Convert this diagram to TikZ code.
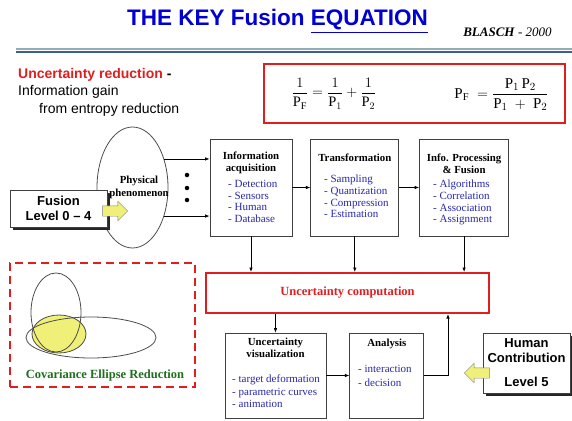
\documentclass[tikz,border=0pt]{standalone}
\usepackage{fontspec}
\setmainfont{Liberation Serif}
\setsansfont{Liberation Sans}
\usepackage{tikz}
\usetikzlibrary{shapes.geometric, shapes.arrows, arrows.meta, positioning, shadows}
\definecolor{keyblue}{RGB}{0,0,210}
\definecolor{keyred}{RGB}{225,30,30}
\definecolor{itemblue}{RGB}{40,40,170}
\definecolor{keygreen}{RGB}{30,110,30}
\definecolor{keyyellow}{RGB}{240,240,120}
\definecolor{rulelight}{RGB}{150,170,190}
\definecolor{ruledark}{RGB}{60,95,140}

\begin{document}
\begin{tikzpicture}[
    x=1pt, y=-1pt,
    box/.style={rectangle, draw=black!75, line width=0.8pt, fill=white,
                minimum width=82, minimum height=97, inner sep=0},
    head/.style={font=\bfseries\fontsize{10.8}{12.5}\selectfont, align=center, inner sep=0},
    items/.style={font=\fontsize{11}{11.7}\selectfont, text=itemblue, align=left, inner sep=0},
    shbox/.style={rectangle, draw=black!75, line width=0.8pt, fill=white, align=center,
                  font=\sffamily\bfseries\fontsize{13}{15}\selectfont,
                  drop shadow={shadow xshift=3pt, shadow yshift=-3pt, opacity=1, fill=black!85}},
    yarrow/.style={single arrow, draw=black!50, fill=keyyellow, minimum height=25,
                   minimum width=19, inner sep=5pt, single arrow head extend=4.5pt},
    arrow/.style={-{Latex[length=4.5pt, width=3.5pt]}, line width=0.7pt},
    ell/.style={ellipse, draw=black!70, line width=0.8pt, inner sep=0},
    dot/.style={circle, fill=black, inner sep=0, minimum size=4.5}
  ]
    \useasboundingbox (0,0) rectangle (572,420);

    % Title
    \node[anchor=base, text=keyblue, font=\sffamily\bfseries\fontsize{22.5}{26}\selectfont]
      (title) at (277.5,26) {THE KEY Fusion \underline{EQUATION}};
    \node[anchor=base, font=\fontsize{13}{15}\selectfont] (author) at (507.5,37)
      {\textbf{\textit{BLASCH}} \textit{- 2000}};
    \draw[rulelight, line width=2pt] (16,49.5) -- (572,49.5);
    \draw[ruledark, line width=2pt] (16,52.5) -- (572,52.5);

    % Entropy text
    \node[anchor=north west, align=left, inner sep=0, font=\sffamily\fontsize{14}{17.5}\selectfont]
      (gain) at (18,68) {\textcolor{keyred}{\bfseries Uncertainty reduction} \textbf{-}\\
      Information gain\\\hspace*{21pt}from entropy reduction};

    % Equations
    \node[draw=keyred, line width=1.5pt, minimum width=301, minimum height=59] (eqbox) at (414.5,93.5) {};
    \node[font=\fontsize{14.5}{17}\selectfont] (eqa) at (334,93.5)
      {$\displaystyle\frac{1}{\mathrm{P}_\mathrm{F}} = \frac{1}{\mathrm{P}_1} + \frac{1}{\mathrm{P}_2}$};
    \node[font=\fontsize{15}{18}\selectfont] (eqb) at (501.5,94.5)
      {$\mathrm{P}_\mathrm{F} \;= \displaystyle\frac{\mathrm{P}_1\,\mathrm{P}_2}{\mathrm{P}_1 \;+\; \mathrm{P}_2}$};

    % Physical phenomenon
    \node[ell, minimum width=71, minimum height=121] (phys) at (132.5,187.5) {};
    \node[head] (physlbl) at (139,187.5) {Physical\\phenomenon};
    \foreach \i/\y in {1/175,2/188,3/200}
      \node[dot] (dot\i) at (187,\y) {};

    % Fusion levels 0-4
    \node[shbox, minimum width=97, minimum height=37] (fusion) at (58.5,208.5) {Fusion\\Level 0 -- 4};
    \node[yarrow] (farr) at (112.5,211) {};

    % Processing chain
    \node[box] (acq) at (251,187.5) {};
    \node[box, minimum width=88, right=18pt of acq] (trans) {};
    \node[box, minimum width=89, right=20pt of trans] (proc) {};
    \node[head, below=13pt of acq.north] (acqhead) {Information\\acquisition};
    \node[head, below=15pt of trans.north] (transhead) {Transformation};
    \node[head, below=15pt of proc.north] (prochead) {Info. Processing\\\& Fusion};
    \node[items, anchor=north west] (acqitems) at (228,180)
      {- Detection\\- Sensors\\- Human\\- Database};
    \node[items, anchor=north west] (transitems) at (324,175)
      {- Sampling\\- Quantization\\- Compression\\- Estimation};
    \node[items, anchor=north west] (procitems) at (433,180)
      {- Algorithms\\- Correlation\\- Association\\- Assignment};

    % Uncertainty computation
    \node[draw=keyred, line width=2pt, minimum width=283, minimum height=40, text=keyred,
          font=\bfseries\fontsize{12.5}{15}\selectfont] (unc) at (347.5,293) {Uncertainty computation};

    % Visualization and analysis
    \node[box, minimum width=101, minimum height=85] (vis) at (275.5,375.5) {};
    \node[box, minimum width=74, minimum height=85, right=23pt of vis] (ana) {};
    \node[head, below=5pt of vis.north] (vishead) {Uncertainty\\visualization};
    \node[head, below=6pt of ana.north] (anahead) {Analysis};
    \node[items, font=\fontsize{11}{12.5}\selectfont, anchor=north west] (visitems) at (232,375)
      {- target deformation\\- parametric curves\\- animation};
    \node[items, anchor=north west] (anaitems) at (358,365) {- interaction\\[2.5pt]- decision};

    % Human contribution
    \node[shbox, minimum width=87, minimum height=60] (human) at (526.5,363)
      {Human\\Contribution\\[9pt]Level 5};
    \node[yarrow, shape border rotate=180] (harr) at (479.5,373) {};

    % Covariance ellipses
    \node[draw=keyred, dash pattern=on 8pt off 5pt, line width=1.8pt,
          minimum width=185, minimum height=124] (cov) at (102.5,325) {};
    \node[ell, fill=keyyellow, minimum width=54, minimum height=38] (cyel) at (59,334) {};
    \node[ell, minimum width=50, minimum height=79] (ctall) at (56,312.5) {};
    \node[ell, minimum width=130, minimum height=41] (cwide) at (91,337.5) {};
    \node[text=keygreen, font=\bfseries\fontsize{12.5}{15}\selectfont] (covlbl) at (105,375)
      {Covariance Ellipse Reduction};

    % Arrows
    \draw[arrow] (phys.42) -- (phys.42 -| acq.west);
    \draw[arrow] (phys.-42) -- (phys.-42 -| acq.west);
    \draw[arrow] (acq) -- (trans);
    \draw[arrow] (trans) -- (proc);
    \draw[arrow] (acq.south) -- (acq.south |- unc.north);
    \draw[arrow] (trans.south) -- (trans.south |- unc.north);
    \draw[arrow] (proc.south) -- (proc.south |- unc.north);
    \draw[arrow] (unc.south -| vis.north) -- (vis.north);
    \draw[arrow] (vis) -- (ana);
    \draw[arrow] (ana.east) -| ([xshift=100.5pt]unc.south);
  \end{tikzpicture}
\end{document}
